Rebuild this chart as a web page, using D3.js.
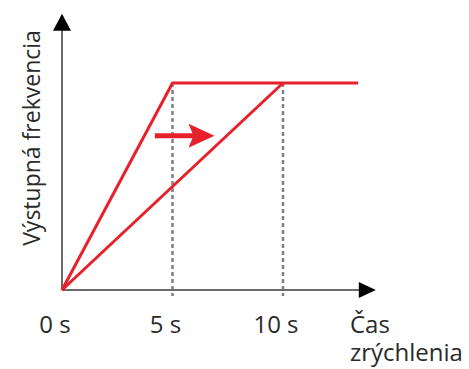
<!DOCTYPE html>
<html><head><meta charset="utf-8">
<script src="https://cdn.jsdelivr.net/npm/d3@7"></script>
<style>html,body{margin:0;padding:0;background:#fff;}svg{display:block;}</style>
</head><body>
<svg id="c" width="469" height="369"></svg>
<script>
// Data
const tickValues = [0, 5, 10];
const tickLabels = ["0 s", "5 s", "10 s"];
const fastRamp = [[0, 0], [5, 1], [13.4, 1]];
const slowRamp = [[0, 0], [10, 1]];
const shiftArrow = [[4.2, 0.745], [6.9, 0.745]];
const xAxisEnd = 14.2;
const yAxisEnd = 1.335;
const xLabel = ["Čas", "zrýchlenia"];
const yLabel = "Výstupná frekvencia";

const svg = d3.select("#c");
const x = d3.scaleLinear().domain([0, 10]).range([62, 283]);
const y = d3.scaleLinear().domain([0, 1]).range([290, 83]);
const red = "#e8202b";
const font = "'Open Sans', sans-serif";
const txt = "#2a2a2a";

// dashed guides
svg.selectAll("line.guide").data(tickValues.slice(1)).enter().append("line")
  .attr("x1", d => x(d)).attr("x2", d => x(d))
  .attr("y1", y(1)).attr("y2", y(0) + 6)
  .attr("stroke", "#808080").attr("stroke-width", 2.5)
  .attr("stroke-dasharray", "4,3");

// axes
svg.append("line").attr("x1", x(0)).attr("x2", x(xAxisEnd) - 10)
  .attr("y1", y(0)).attr("y2", y(0)).attr("stroke", "#6b6b6b").attr("stroke-width", 2);
svg.append("line").attr("x1", x(0)).attr("x2", x(0))
  .attr("y1", y(0)).attr("y2", y(yAxisEnd) + 10).attr("stroke", "#6b6b6b").attr("stroke-width", 2);
// arrowheads
const xt = x(xAxisEnd), yt = y(yAxisEnd);
svg.append("path").attr("d", `M${xt},${y(0)} L${xt-17},${y(0)-8} L${xt-17},${y(0)+8} Z`).attr("fill", "#000");
svg.append("path").attr("d", `M${x(0)},${yt} L${x(0)-9},${yt+17} L${x(0)+9},${yt+17} Z`).attr("fill", "#000");

// red lines
const line = d3.line().x(d => x(d[0])).y(d => y(d[1]));
[fastRamp, slowRamp].forEach(s => {
  svg.append("path").attr("d", line(s)).attr("fill", "none")
    .attr("stroke", red).attr("stroke-width", 3).attr("stroke-linejoin", "miter");
});

// shift arrow
const a0 = shiftArrow[0], a1 = shiftArrow[1];
const ax0 = x(a0[0]), ax1 = x(a1[0]), ay = y(a0[1]);
svg.append("line").attr("x1", ax0).attr("x2", ax1 - 18).attr("y1", ay).attr("y2", ay)
  .attr("stroke", red).attr("stroke-width", 5);
svg.append("path").attr("d", `M${ax1},${ay} L${ax1-26},${ay-12} L${ax1-21},${ay} L${ax1-26},${ay+12} Z`).attr("fill", red);

// tick labels
svg.selectAll("text.tick").data(tickValues).enter().append("text")
  .attr("x", d => x(d) - 7).attr("y", 333)
  .attr("text-anchor", "middle").attr("font-family", font).attr("font-size", 24)
  .attr("fill", txt).text((d, i) => tickLabels[i]);

// x label (two lines in one text element)
const xl = svg.append("text").attr("font-family", font).attr("font-size", 24).attr("fill", txt);
xl.selectAll("tspan").data(xLabel).enter().append("tspan")
  .attr("x", 350).attr("y", (d, i) => 333 + i * 28).text(d => d);

// y label
svg.append("text").attr("transform", "translate(40,138) rotate(-90)")
  .attr("text-anchor", "middle").attr("font-family", font).attr("font-size", 23)
  .attr("fill", txt).text(yLabel);
</script>
</body></html>
